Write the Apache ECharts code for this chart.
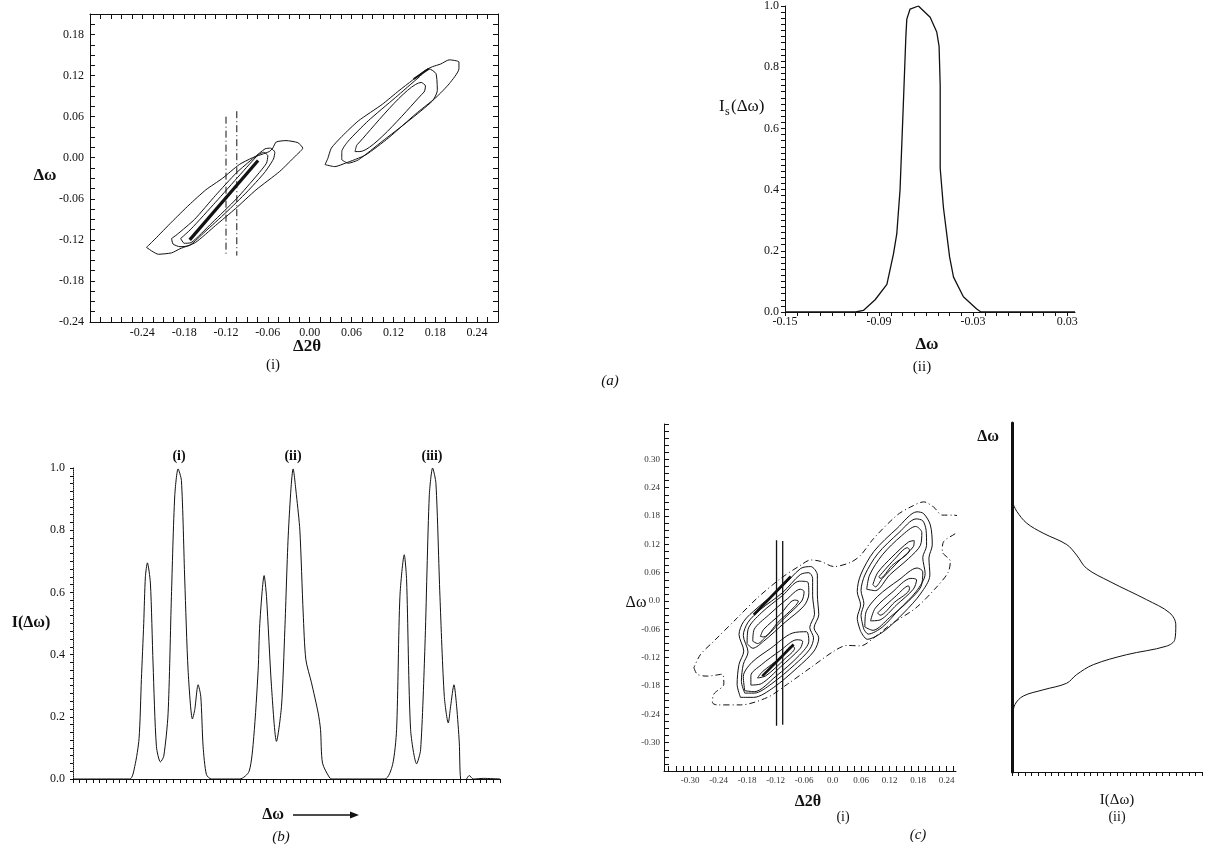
<!DOCTYPE html>
<html>
<head>
<meta charset="utf-8">
<script src="https://cdn.jsdelivr.net/npm/echarts@6.0.0/dist/echarts.min.js"></script>
<style>
  html, body { margin: 0; padding: 0; background: #fff; }
  #chart { width: 1205px; height: 847px; }
</style>
</head>
<body>
<div id="chart"></div>
<script>
// ---------- (a)(i) contour map, Δ2θ / Δω ----------
var aXLabels = [-0.24, -0.18, -0.12, -0.06, 0.00, 0.06, 0.12, 0.18, 0.24];
var aYLabels = [-0.24, -0.18, -0.12, -0.06, 0.00, 0.06, 0.12, 0.18];
var aLeftOuter = [[-0.234,-0.131],[-0.217,-0.141],[-0.198,-0.139],[-0.186,-0.133],[-0.164,-0.124],[-0.135,-0.099],[-0.106,-0.074],[-0.077,-0.047],[-0.043,-0.020],[-0.019,0.004],[-0.010,0.014],[-0.017,0.022],[-0.034,0.025],[-0.048,0.023],[-0.053,0.014],[-0.058,0.009],[-0.082,0.000],[-0.101,-0.010],[-0.125,-0.030],[-0.149,-0.047],[-0.173,-0.069],[-0.198,-0.094],[-0.222,-0.119],[-0.234,-0.131]];
var aLeftMid = [[-0.198,-0.118],[-0.196,-0.126],[-0.186,-0.130],[-0.172,-0.128],[-0.150,-0.108],[-0.120,-0.080],[-0.090,-0.050],[-0.065,-0.022],[-0.052,-0.002],[-0.050,0.008],[-0.056,0.014],[-0.064,0.013],[-0.080,0.000],[-0.105,-0.022],[-0.135,-0.055],[-0.165,-0.090],[-0.190,-0.112],[-0.198,-0.118]];
var aLeftInner = [[-0.185,-0.118],[-0.180,-0.125],[-0.170,-0.124],[-0.140,-0.095],[-0.105,-0.060],[-0.075,-0.025],[-0.062,-0.008],[-0.060,0.003],[-0.066,0.008],[-0.074,0.004],[-0.100,-0.025],[-0.135,-0.065],[-0.170,-0.104],[-0.185,-0.118]];
var aLeftRidge = [[-0.172,-0.120],[-0.074,-0.004]];
var aRightOuter = [[0.022,-0.010],[0.036,-0.013],[0.051,-0.008],[0.080,0.004],[0.113,0.029],[0.152,0.064],[0.181,0.088],[0.200,0.108],[0.214,0.130],[0.214,0.140],[0.200,0.143],[0.188,0.137],[0.176,0.133],[0.166,0.128],[0.147,0.113],[0.128,0.098],[0.104,0.078],[0.070,0.054],[0.046,0.031],[0.031,0.014],[0.026,-0.001],[0.022,-0.010]];
var aRightMid = [[0.046,-0.003],[0.055,-0.008],[0.070,-0.003],[0.104,0.024],[0.142,0.054],[0.176,0.083],[0.183,0.098],[0.181,0.123],[0.171,0.130],[0.157,0.118],[0.123,0.088],[0.084,0.054],[0.055,0.024],[0.046,0.009],[0.046,-0.003]];
var aRightInner = [[0.065,0.009],[0.072,0.009],[0.164,0.096],[0.166,0.105],[0.160,0.110],[0.068,0.019],[0.065,0.009]];
var aRightRidge = [[0.149,0.115],[0.171,0.130]];
var aCut1 = [[-0.120,0.060],[-0.120,-0.143]];
var aCut2 = [[-0.1045,0.068],[-0.1045,-0.143]];

// ---------- (a)(ii) section profile ----------
var sXLabels = [-0.15, -0.09, -0.03, 0.03];
var sYLabels = [0.0, 0.2, 0.4, 0.6, 0.8, 1.0];
var sProfile = [[-0.15,0],[-0.105,0],[-0.100,0.005],[-0.0925,0.04],[-0.085,0.09],[-0.0808,0.19],[-0.0787,0.255],[-0.0766,0.40],[-0.0745,0.68],[-0.0729,0.90],[-0.0723,0.957],[-0.0702,0.99],[-0.0649,1.0],[-0.0574,0.963],[-0.0532,0.915],[-0.0517,0.868],[-0.051,0.74],[-0.051,0.47],[-0.0489,0.34],[-0.045,0.18],[-0.0425,0.114],[-0.0362,0.05],[-0.0277,0.01],[-0.025,0.0],[0.035,0]];

// ---------- (b) rocking curves ----------
var bYLabels = [0.0, 0.2, 0.4, 0.6, 0.8, 1.0];
var bCurve = [[0,0],[8.5,0],[9.25,0.04],[9.9,0.13],[10.25,0.32],[10.6,0.50],[10.85,0.65],[11.15,0.695],[11.6,0.63],[12.0,0.37],[12.5,0.105],[13.1,0.055],[13.6,0.073],[14.25,0.21],[14.75,0.587],[15.25,0.91],[15.75,0.997],[16.25,0.96],[16.75,0.64],[17.25,0.35],[17.9,0.193],[18.25,0.223],[18.75,0.303],[19.15,0.266],[19.5,0.105],[20.0,0.014],[20.75,0],
  [25,0],[26.4,0.025],[27.1,0.137],[27.75,0.35],[28.0,0.50],[28.65,0.654],[29.0,0.587],[29.75,0.298],[30.5,0.121],[31.25,0.234],[31.75,0.48],[32.3,0.80],[33.0,0.997],[33.5,0.91],[34.0,0.80],[34.5,0.534],[34.9,0.384],[35.75,0.309],[36.75,0.212],[37.1,0.159],[37.4,0.051],[38.5,0.003],[39,0],
  [46.75,0],[47.9,0.046],[48.5,0.159],[49.0,0.587],[49.65,0.721],[50.0,0.64],[50.6,0.159],[51.5,0.049],[52.1,0.094],[52.75,0.427],[53.4,0.91],[53.9,1.0],[54.4,0.95],[55.0,0.587],[55.65,0.266],[56.25,0.18],[56.6,0.234],[57.1,0.303],[57.5,0.234],[57.9,0.116],[58.1,0],[58.6,-0.01],[59.4,0.011],[60,0],[61.5,0.002],[64,0]];
var bPeakNames = ['(i)', '(ii)', '(iii)'];

// ---------- (c)(i) contour map ----------
var cXLabels = [-0.30, -0.24, -0.18, -0.12, -0.06, 0.0, 0.06, 0.12, 0.18, 0.24];
var cYLabels = [-0.30, -0.24, -0.18, -0.12, -0.06, 0.0, 0.06, 0.12, 0.18, 0.24, 0.30];
var cEnvelope = [[-0.292,-0.141],[-0.285,-0.155],[-0.264,-0.159],[-0.232,-0.155],[-0.229,-0.176],[-0.250,-0.197],[-0.253,-0.215],[-0.243,-0.220],[-0.194,-0.220],[-0.137,-0.204],[-0.095,-0.176],[-0.046,-0.141],[0.003,-0.106],[0.031,-0.094],[0.059,-0.095],[0.087,-0.078],[0.122,-0.050],[0.175,-0.015],[0.215,0.025],[0.243,0.060],[0.248,0.084],[0.231,0.105],[0.234,0.126],[0.263,0.147],[0.273,0.175],[0.255,0.182],[0.231,0.182],[0.213,0.199],[0.192,0.210],[0.164,0.199],[0.136,0.182],[0.087,0.133],[0.059,0.097],[0.038,0.082],[0.003,0.073],[-0.025,0.084],[-0.046,0.087],[-0.067,0.076],[-0.109,0.048],[-0.159,0.006],[-0.201,-0.036],[-0.250,-0.085],[-0.278,-0.113],[-0.292,-0.141]];
var cLeft1 = [[-0.194,-0.204],[-0.201,-0.176],[-0.197,-0.134],[-0.187,-0.106],[-0.197,-0.071],[-0.187,-0.043],[-0.159,-0.015],[-0.109,0.027],[-0.067,0.069],[-0.046,0.073],[-0.032,0.055],[-0.032,0.013],[-0.029,-0.029],[-0.039,-0.057],[-0.029,-0.078],[-0.039,-0.106],[-0.074,-0.141],[-0.124,-0.183],[-0.166,-0.204],[-0.194,-0.204]];
var cLeft2 = [[-0.185,-0.195],[-0.192,-0.170],[-0.188,-0.134],[-0.178,-0.108],[-0.188,-0.073],[-0.178,-0.045],[-0.152,-0.018],[-0.105,0.018],[-0.068,0.056],[-0.050,0.060],[-0.042,0.048],[-0.042,0.012],[-0.038,-0.028],[-0.048,-0.056],[-0.040,-0.078],[-0.048,-0.102],[-0.080,-0.135],[-0.128,-0.175],[-0.165,-0.195],[-0.185,-0.195]];
var cLeftUp1 = [[-0.180,-0.090],[-0.178,-0.060],[-0.150,-0.025],[-0.105,0.012],[-0.070,0.042],[-0.052,0.040],[-0.050,0.015],[-0.060,-0.010],[-0.100,-0.045],[-0.145,-0.085],[-0.168,-0.100],[-0.180,-0.090]];
var cLeftUp2 = [[-0.168,-0.085],[-0.165,-0.060],[-0.135,-0.030],[-0.095,0.005],[-0.068,0.025],[-0.060,0.020],[-0.065,0.000],[-0.100,-0.035],[-0.140,-0.075],[-0.158,-0.090],[-0.168,-0.085]];
var cLeftUp3 = [[-0.152,-0.075],[-0.145,-0.060],[-0.110,-0.028],[-0.080,0.002],[-0.072,0.000],[-0.080,-0.012],[-0.115,-0.045],[-0.145,-0.076],[-0.152,-0.075]];
var cLeftLow1 = [[-0.185,-0.190],[-0.188,-0.160],[-0.170,-0.130],[-0.130,-0.100],[-0.085,-0.068],[-0.055,-0.065],[-0.050,-0.085],[-0.070,-0.115],[-0.120,-0.160],[-0.165,-0.192],[-0.185,-0.190]];
var cLeftLow2 = [[-0.172,-0.178],[-0.172,-0.158],[-0.150,-0.135],[-0.110,-0.105],[-0.075,-0.082],[-0.063,-0.085],[-0.068,-0.100],[-0.110,-0.140],[-0.150,-0.175],[-0.172,-0.178]];
var cLeftLow3 = [[-0.158,-0.163],[-0.148,-0.150],[-0.110,-0.120],[-0.085,-0.095],[-0.080,-0.100],[-0.100,-0.122],[-0.140,-0.158],[-0.158,-0.163]];
var cRidgeUp = [[-0.166,-0.029],[-0.088,0.052]];
var cRidgeLow = [[-0.148,-0.159],[-0.082,-0.092]];
var cRight1 = [[0.059,-0.064],[0.052,-0.036],[0.059,-0.008],[0.052,0.020],[0.059,0.055],[0.087,0.105],[0.136,0.154],[0.178,0.189],[0.192,0.185],[0.206,0.161],[0.210,0.119],[0.203,0.091],[0.205,0.055],[0.185,0.015],[0.150,-0.025],[0.108,-0.064],[0.073,-0.081],[0.059,-0.064]];
var cRight2 = [[0.066,-0.060],[0.060,-0.030],[0.066,-0.005],[0.060,0.022],[0.068,0.055],[0.095,0.100],[0.140,0.145],[0.176,0.174],[0.190,0.170],[0.197,0.150],[0.198,0.118],[0.190,0.092],[0.195,0.058],[0.176,0.020],[0.140,-0.018],[0.105,-0.055],[0.075,-0.070],[0.066,-0.060]];
var cRightUp1 = [[0.072,0.025],[0.078,0.055],[0.105,0.098],[0.145,0.138],[0.175,0.158],[0.188,0.145],[0.185,0.118],[0.160,0.090],[0.120,0.055],[0.090,0.022],[0.072,0.025]];
var cRightUp2 = [[0.085,0.035],[0.095,0.060],[0.125,0.093],[0.160,0.125],[0.172,0.128],[0.170,0.115],[0.140,0.085],[0.105,0.048],[0.090,0.030],[0.085,0.035]];
var cRightUp3 = [[0.098,0.052],[0.130,0.088],[0.158,0.113],[0.162,0.108],[0.125,0.075],[0.100,0.048],[0.098,0.052]];
var cRightLow1 = [[0.068,-0.055],[0.070,-0.025],[0.095,0.010],[0.140,0.045],[0.178,0.070],[0.190,0.062],[0.186,0.030],[0.160,0.000],[0.120,-0.035],[0.085,-0.062],[0.068,-0.055]];
var cRightLow2 = [[0.080,-0.042],[0.090,-0.015],[0.125,0.018],[0.165,0.048],[0.177,0.045],[0.170,0.025],[0.135,-0.008],[0.100,-0.040],[0.080,-0.042]];
var cRightLow3 = [[0.095,-0.025],[0.135,0.012],[0.160,0.032],[0.162,0.026],[0.130,-0.003],[0.100,-0.030],[0.095,-0.025]];
var cCut1 = [[-0.118,0.129],[-0.118,-0.264]];
var cCut2 = [[-0.105,0.127],[-0.105,-0.262]];

// ---------- (c)(ii) integrated profile, I vs Δω ----------
var cProfile = [[0,0.21],[0.029,0.189],[0.09,0.164],[0.19,0.143],[0.334,0.119],[0.394,0.097],[0.455,0.069],[0.598,0.041],[0.821,0.003],[0.963,-0.025],[1.0,-0.05],[0.994,-0.081],[0.943,-0.095],[0.699,-0.113],[0.496,-0.134],[0.394,-0.155],[0.334,-0.173],[0.19,-0.187],[0.069,-0.2],[0.018,-0.218],[0,-0.246]];

var FONT = '"Liberation Serif", "DejaVu Serif", serif';
var INK = '#111';

function steps(a, b, d) {
  var out = [];
  for (var v = a; v <= b + 1e-9; v += d) out.push(+v.toFixed(4));
  return out;
}
function fmt(n) {
  return function (v) { return (Math.abs(v) < 1e-9 ? 0 : v).toFixed(n); };
}

function axis(o) {
  return {
    type: 'value', gridIndex: o.grid, position: o.pos, min: o.min, max: o.max,
    splitLine: { show: false },
    axisLine: { show: true, onZero: false, lineStyle: { color: INK, width: o.lineWidth || 1, type: o.lineType || 'solid' } },
    axisTick: { show: !!o.ticks, inside: !!o.inside, length: o.tickLen || 4,
      customValues: o.ticks, lineStyle: { color: INK, width: 1 } },
    axisLabel: { show: !!o.labels, customValues: o.labels, formatter: o.formatter,
      color: o.labelColor || INK, fontFamily: FONT, fontSize: o.fontSize || 12, margin: o.margin || 6 }
  };
}

function curve(data, xi, yi, extra) {
  extra = extra || {};
  return {
    type: 'line', xAxisIndex: xi, yAxisIndex: yi, data: data,
    symbol: 'none', silent: true, smooth: extra.smooth || false, animation: false,
    clip: extra.clip !== undefined ? extra.clip : true,
    lineStyle: { color: INK, width: extra.width || 1, type: extra.type || 'solid' },
    z: extra.z || 2
  };
}

var chart = echarts.init(document.getElementById('chart'));

var option = {
  backgroundColor: '#fff',
  animation: false,
  grid: [
    { left: 90, top: 14, width: 408, height: 308 },   // (a)(i)
    { left: 785, top: 2, width: 290, height: 310 },   // (a)(ii)
    { left: 73, top: 468, width: 427, height: 311 },  // (b)
    { left: 664, top: 424, width: 292, height: 347 }, // (c)(i)
    { left: 1012, top: 423, width: 190, height: 349 } // (c)(ii)
  ],
  xAxis: [
    axis({ grid: 0, pos: 'bottom', min: -0.315, max: 0.27, labels: aXLabels, ticks: steps(-0.315, 0.27, 0.015), inside: true, tickLen: 5, formatter: fmt(2), margin: 5 }),
    axis({ grid: 0, pos: 'top', min: -0.315, max: 0.27, ticks: steps(-0.315, 0.27, 0.015), inside: true, tickLen: 5 }),
    axis({ grid: 1, pos: 'bottom', min: -0.15, max: 0.035, labels: sXLabels, ticks: steps(-0.15, 0.035, 0.0075), tickLen: 4, formatter: fmt(2), margin: 4 }),
    axis({ grid: 2, pos: 'bottom', min: 0, max: 64, ticks: steps(0, 64, 1), tickLen: 4 }),
    axis({ grid: 3, pos: 'bottom', min: -0.355, max: 0.26, labels: cXLabels, ticks: steps(-0.345, 0.255, 0.015), inside: true, tickLen: 5, fontSize: 9, labelColor: '#333', margin: 5,
      formatter: function (v) { return Math.abs(v) < 1e-9 ? '0.0' : v.toFixed(2); } }),
    axis({ grid: 4, pos: 'bottom', min: 0, max: 1.16, ticks: steps(0, 1.16, 0.04), tickLen: 4 })
  ],
  yAxis: [
    axis({ grid: 0, pos: 'left', min: -0.24, max: 0.21, labels: aYLabels, ticks: steps(-0.24, 0.21, 0.015), inside: true, tickLen: 5, formatter: fmt(2), margin: 6 }),
    axis({ grid: 0, pos: 'right', min: -0.24, max: 0.21, ticks: steps(-0.24, 0.21, 0.015), inside: true, tickLen: 5 }),
    axis({ grid: 1, pos: 'left', min: 0, max: 1, labels: sYLabels, ticks: steps(0, 1, 0.02), tickLen: 4, formatter: fmt(1), margin: 6 }),
    axis({ grid: 2, pos: 'left', min: 0, max: 1, labels: bYLabels, ticks: steps(0, 1, 0.025), tickLen: 3, formatter: fmt(1), margin: 8, lineType: 'dotted' }),
    axis({ grid: 3, pos: 'left', min: -0.36, max: 0.375, labels: cYLabels, ticks: steps(-0.36, 0.375, 0.015), inside: true, tickLen: 5, fontSize: 9, labelColor: '#333', margin: 4,
      formatter: function (v) { return Math.abs(v) < 1e-9 ? '0.0' : v.toFixed(2); } }),
    axis({ grid: 4, pos: 'left', min: -0.36, max: 0.375, lineWidth: 3 })
  ],
  series: [
    // (a)(i)
    curve(aLeftOuter, 0, 0, { smooth: 0.2 }),
    curve(aLeftMid, 0, 0, { smooth: 0.2 }),
    curve(aLeftInner, 0, 0, { smooth: 0.2 }),
    curve(aLeftRidge, 0, 0, { width: 3.2 }),
    curve(aRightOuter, 0, 0, { smooth: 0.2 }),
    curve(aRightMid, 0, 0, { smooth: 0.2 }),
    curve(aRightInner, 0, 0, { smooth: 0.2 }),
    curve(aRightRidge, 0, 0, { width: 2 }),
    curve(aCut1, 0, 0, { type: [7, 3, 1, 3] }),
    curve(aCut2, 0, 0, { type: [7, 3, 1, 3] }),
    // (a)(ii)
    curve(sProfile, 2, 2, { width: 1.3 }),
    // (b)
    curve(bCurve, 3, 3, { smooth: 0.25 }),
    // (c)(i)
    curve(cEnvelope, 4, 4, { smooth: 0.3, type: [6, 3, 1, 3], clip: false }),
    curve(cLeft1, 4, 4, { smooth: 0.3 }),
    curve(cLeft2, 4, 4, { smooth: 0.3 }),
    curve(cLeftUp1, 4, 4, { smooth: 0.3 }),
    curve(cLeftUp2, 4, 4, { smooth: 0.3 }),
    curve(cLeftUp3, 4, 4, { smooth: 0.3 }),
    curve(cLeftLow1, 4, 4, { smooth: 0.3 }),
    curve(cLeftLow2, 4, 4, { smooth: 0.3 }),
    curve(cLeftLow3, 4, 4, { smooth: 0.3 }),
    curve(cRidgeUp, 4, 4, { width: 2.6 }),
    curve(cRidgeLow, 4, 4, { width: 2.6 }),
    curve(cRight1, 4, 4, { smooth: 0.3 }),
    curve(cRight2, 4, 4, { smooth: 0.3 }),
    curve(cRightUp1, 4, 4, { smooth: 0.3 }),
    curve(cRightUp2, 4, 4, { smooth: 0.3 }),
    curve(cRightUp3, 4, 4, { smooth: 0.3 }),
    curve(cRightLow1, 4, 4, { smooth: 0.3 }),
    curve(cRightLow2, 4, 4, { smooth: 0.3 }),
    curve(cRightLow3, 4, 4, { smooth: 0.3 }),
    curve(cCut1, 4, 4, { width: 1.3 }),
    curve(cCut2, 4, 4, { width: 1.3 }),
    // (c)(ii)
    curve(cProfile, 5, 5, { smooth: 0.35 })
  ],
  graphic: [
    // (a)(i)
    { type: 'text', style: { text: 'Δω', x: 45, y: 176, font: 'bold 17px ' + FONT, fill: INK, textAlign: 'center', textVerticalAlign: 'middle' } },
    { type: 'text', style: { text: 'Δ2θ', x: 307, y: 347, font: 'bold 17px ' + FONT, fill: INK, textAlign: 'center', textVerticalAlign: 'middle' } },
    { type: 'text', style: { text: '(i)', x: 273, y: 365, font: '15px ' + FONT, fill: INK, textAlign: 'center', textVerticalAlign: 'middle' } },
    // (a)(ii)
    { type: 'text', style: { text: 'I', x: 719, y: 107, font: '17px ' + FONT, fill: INK, textAlign: 'left', textVerticalAlign: 'middle' } },
    { type: 'text', style: { text: 's', x: 725, y: 112, font: '12px ' + FONT, fill: INK, textAlign: 'left', textVerticalAlign: 'middle' } },
    { type: 'text', style: { text: '(Δω)', x: 731, y: 107, font: '17px ' + FONT, fill: INK, textAlign: 'left', textVerticalAlign: 'middle' } },
    { type: 'text', style: { text: 'Δω', x: 927, y: 345, font: 'bold 17px ' + FONT, fill: INK, textAlign: 'center', textVerticalAlign: 'middle' } },
    { type: 'text', style: { text: '(ii)', x: 922, y: 367, font: '15px ' + FONT, fill: INK, textAlign: 'center', textVerticalAlign: 'middle' } },
    { type: 'text', style: { text: '(a)', x: 610, y: 381, font: 'italic 15px ' + FONT, fill: INK, textAlign: 'center', textVerticalAlign: 'middle' } },
    // (b)
    { type: 'text', style: { text: bPeakNames[0], x: 179, y: 456, font: 'bold 14px ' + FONT, fill: INK, textAlign: 'center', textVerticalAlign: 'middle' } },
    { type: 'text', style: { text: bPeakNames[1], x: 293, y: 456, font: 'bold 14px ' + FONT, fill: INK, textAlign: 'center', textVerticalAlign: 'middle' } },
    { type: 'text', style: { text: bPeakNames[2], x: 432, y: 456, font: 'bold 14px ' + FONT, fill: INK, textAlign: 'center', textVerticalAlign: 'middle' } },
    { type: 'text', style: { text: 'I(Δω)', x: 31, y: 623, font: 'bold 16px ' + FONT, fill: INK, textAlign: 'center', textVerticalAlign: 'middle' } },
    { type: 'text', style: { text: 'Δω', x: 273, y: 815, font: 'bold 16px ' + FONT, fill: INK, textAlign: 'center', textVerticalAlign: 'middle' } },
    { type: 'line', shape: { x1: 293, y1: 815, x2: 352, y2: 815 }, style: { stroke: INK, lineWidth: 1.5 } },
    { type: 'polygon', shape: { points: [[350, 811.5], [359, 815], [350, 818.5]] }, style: { fill: INK } },
    { type: 'text', style: { text: '(b)', x: 281, y: 837, font: 'italic 15px ' + FONT, fill: INK, textAlign: 'center', textVerticalAlign: 'middle' } },
    // (c)(i)
    { type: 'text', style: { text: 'Δω', x: 636, y: 603, font: '16px ' + FONT, fill: INK, textAlign: 'center', textVerticalAlign: 'middle' } },
    { type: 'text', style: { text: 'Δ2θ', x: 808, y: 802, font: 'bold 16px ' + FONT, fill: INK, textAlign: 'center', textVerticalAlign: 'middle' } },
    { type: 'text', style: { text: '(i)', x: 843, y: 817, font: '14px ' + FONT, fill: INK, textAlign: 'center', textVerticalAlign: 'middle' } },
    { type: 'text', style: { text: '(c)', x: 918, y: 835, font: 'italic 15px ' + FONT, fill: INK, textAlign: 'center', textVerticalAlign: 'middle' } },
    // (c)(ii)
    { type: 'text', style: { text: 'Δω', x: 988, y: 437, font: 'bold 16px ' + FONT, fill: INK, textAlign: 'center', textVerticalAlign: 'middle' } },
    { type: 'text', style: { text: 'I(Δω)', x: 1117, y: 800, font: '15px ' + FONT, fill: INK, textAlign: 'center', textVerticalAlign: 'middle' } },
    { type: 'text', style: { text: '(ii)', x: 1117, y: 817, font: '14px ' + FONT, fill: INK, textAlign: 'center', textVerticalAlign: 'middle' } }
  ]
};

chart.setOption(option);
</script>
</body>
</html>
